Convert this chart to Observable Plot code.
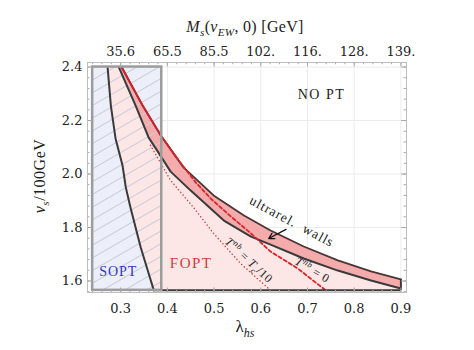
<!DOCTYPE html>
<html><head><meta charset="utf-8">
<script src="https://cdn.jsdelivr.net/npm/d3@7"></script>
<script src="https://cdn.jsdelivr.net/npm/@observablehq/plot@0.6"></script>
<style>
html,body{margin:0;padding:0;background:#fff;}
#chart{width:474px;height:350px;}
</style></head><body><div id="chart"></div>
<script>
// ---- axis ticks ----
const lamTicks = [0.3, 0.4, 0.5, 0.6, 0.7, 0.8, 0.9];
const msTickLabels = ["35.6", "65.5", "85.5", "102.", "116.", "128.", "139."];
const vTicks = [1.6, 1.8, 2.0, 2.2, 2.4];

// ---- SOPT / FOPT boundary (left black curve) ----
const soptLam = [0.272, 0.279, 0.289, 0.304, 0.311, 0.321, 0.332, 0.343, 0.358, 0.371];
const soptV   = [2.400, 2.256, 2.133, 2.032, 1.950, 1.875, 1.800, 1.725, 1.639, 1.565];

// ---- ultrarelativistic-wall band: lower boundary ----
const wallLowLam = [0.296, 0.332, 0.360, 0.381, 0.407, 0.450, 0.521, 0.579, 0.621, 0.692, 0.765, 0.836, 0.900];
const wallLowV   = [2.400, 2.256, 2.136, 2.080, 2.009, 1.938, 1.826, 1.766, 1.736, 1.684, 1.639, 1.602, 1.572];

// ---- band upper boundary (NO PT boundary) ----
const wallUpLam = [0.302, 0.347, 0.386, 0.435, 0.499, 0.564, 0.621, 0.692, 0.765, 0.836, 0.900];
const wallUpV   = [2.400, 2.256, 2.144, 2.024, 1.920, 1.845, 1.789, 1.729, 1.677, 1.636, 1.606];

// ---- T^nb = 0 (red dashed) ----
const tnb0Lam = [0.302, 0.347, 0.386, 0.418, 0.461, 0.493, 0.536, 0.579, 0.621, 0.679, 0.739];
const tnb0V   = [2.400, 2.256, 2.144, 2.065, 1.968, 1.908, 1.841, 1.778, 1.710, 1.647, 1.565];

// ---- T^nb = T_c/10 (red dotted) ----
const tnb10Lam = [0.364, 0.407, 0.456, 0.499, 0.557, 0.621];
const tnb10V   = [2.107, 1.976, 1.875, 1.778, 1.665, 1.565];

// ---- SOPT box, floor, arrow ----
const soptBoxLam = [0.240, 0.388];
const soptBoxV = [1.565, 2.400];
const vFloor = 1.565;
const arrowLam = [0.654, 0.617];
const arrowV = [1.793, 1.759];

// ---- labels ----
const labelNames = ["NO PT", "FOPT", "SOPT", "ultrarel.  walls"];
const labelLam = [0.731, 0.452, 0.296, 0.668];
const labelV = [2.297, 1.665, 1.635, 1.822];

const xDom = [0.229, 0.912];
const yDom = [1.557, 2.417];

const pts = (L, V) => L.map((x, i) => ({x, y: V[i]}));
const sopt = pts(soptLam, soptV);
const low = pts(wallLowLam, wallLowV);
const up = pts(wallUpLam, wallUpV);
const tnb0 = pts(tnb0Lam, tnb0V);
const tnb10 = pts(tnb10Lam, tnb10V);
const fopt = [...sopt, {x: wallLowLam[wallLowLam.length - 1], y: vFloor}, ...low.slice().reverse()];
const band = [...low, ...up.slice().reverse()];
const boxOpt = {x1: soptBoxLam[0], x2: soptBoxLam[1], y1: soptBoxV[0], y2: soptBoxV[1]};

const lamMinor = d3.range(0.24, 0.9101, 0.02);
const vMinor = d3.range(1.56, 2.4101, 0.04);
const dy = 0.012, dx = 0.0075;

const SERIF = "'Liberation Serif', 'Times New Roman', 'DejaVu Serif', serif";
const TICKFONT = "'DejaVu Serif', 'Liberation Serif', serif";
const dark = "#3a3a3a";
const plot = Plot.plot({
  width: 474, height: 350,
  marginLeft: 87, marginRight: 68, marginTop: 62, marginBottom: 58,
  x: {domain: xDom},
  y: {domain: yDom},
  style: {fontFamily: TICKFONT, fontSize: "13px", color: "#222", background: "#fff"},
  marks: [
    Plot.gridX(lamTicks, {stroke: "#ececec", strokeOpacity: 1}),
    Plot.gridY(vTicks, {stroke: "#ececec", strokeOpacity: 1}),
    Plot.rect([0], {...boxOpt, fill: "#eceef9"}),
    Plot.line(fopt, {x: "x", y: "y", fill: "#fde6e6", stroke: "none"}),
    Plot.line(band, {x: "x", y: "y", fill: "#f4abab", stroke: "none"}),
    Plot.rect([0], {...boxOpt, fill: "url(#hatch)"}),
    Plot.line(tnb10, {x: "x", y: "y", stroke: "#c84848", strokeWidth: 1.5, strokeDasharray: "0.1,3.4", strokeLinecap: "round"}),
    Plot.line(sopt, {x: "x", y: "y", stroke: dark, strokeWidth: 2}),
    Plot.line(low, {x: "x", y: "y", stroke: dark, strokeWidth: 2}),
    Plot.line(up, {x: "x", y: "y", stroke: "#4a3434", strokeWidth: 1.8}),
    Plot.line(tnb0, {x: "x", y: "y", filter: d => d.y >= 2.06, stroke: "#c8262b", strokeWidth: 1.9}),
    Plot.line(tnb0, {x: "x", y: "y", filter: d => d.y <= 2.07, stroke: "#d8262b", strokeWidth: 1.8, strokeDasharray: "3.5,2.5"}),
    Plot.ruleY([vFloor], {x1: soptLam[soptLam.length - 1], x2: wallLowLam[wallLowLam.length - 1], stroke: dark, strokeWidth: 2}),
    Plot.ruleX([wallUpLam[wallUpLam.length - 1]], {y1: vFloor, y2: wallUpV[wallUpV.length - 1], stroke: dark, strokeWidth: 2}),
    Plot.rect([0], {...boxOpt, fill: "none", stroke: "#9c9c9c", strokeWidth: 2.5}),
    Plot.arrow([0], {x1: arrowLam[0], y1: arrowV[0], x2: arrowLam[1], y2: arrowV[1], stroke: "#111", strokeWidth: 1.3, headLength: 7}),
    // frame ticks
    Plot.ruleX(lamMinor, {y1: yDom[0], y2: yDom[0] + dy * 0.7, stroke: "#a8a8a8"}),
    Plot.ruleX(lamMinor, {y1: yDom[1], y2: yDom[1] - dy * 0.7, stroke: "#a8a8a8"}),
    Plot.ruleX(lamTicks, {y1: yDom[0], y2: yDom[0] + dy * 1.4, stroke: "#a8a8a8"}),
    Plot.ruleX(lamTicks, {y1: yDom[1], y2: yDom[1] - dy * 1.4, stroke: "#a8a8a8"}),
    Plot.ruleY(vMinor, {x1: xDom[0], x2: xDom[0] + dx * 0.7, stroke: "#a8a8a8"}),
    Plot.ruleY(vMinor, {x1: xDom[1], x2: xDom[1] - dx * 0.7, stroke: "#a8a8a8"}),
    Plot.ruleY(vTicks, {x1: xDom[0], x2: xDom[0] + dx * 1.4, stroke: "#a8a8a8"}),
    Plot.ruleY(vTicks, {x1: xDom[1], x2: xDom[1] - dx * 1.4, stroke: "#a8a8a8"}),
    Plot.frame({stroke: "#bdbdbd"}),
    Plot.axisX(lamTicks, {anchor: "bottom", tickSize: 0, tickPadding: 11, label: null, fontFamily: TICKFONT, tickFormat: d => d.toFixed(1)}),
    Plot.axisX(lamTicks, {anchor: "top", tickSize: 0, tickPadding: 7, label: null, fontFamily: TICKFONT, tickFormat: d => msTickLabels[lamTicks.indexOf(d)]}),
    Plot.axisY(vTicks, {anchor: "left", tickSize: 0, tickPadding: 5, label: null, fontFamily: TICKFONT, tickFormat: d => d.toFixed(1)})
  ]
});

const svg = d3.select(plot);
const defs = svg.insert("defs", ":first-child");
const pat = defs.append("pattern").attr("id", "hatch").attr("patternUnits", "userSpaceOnUse")
  .attr("width", 24).attr("height", 11).attr("patternTransform", "rotate(-30)");
pat.append("line").attr("x1", 0).attr("y1", 5.5).attr("x2", 24).attr("y2", 5.5)
  .attr("stroke", "#c9ccd9").attr("stroke-width", 1);

const X = plot.scale("x"), Y = plot.scale("y");
function rich(parts, px, py, o = {}) {
  const size = o.size || 14;
  const t = svg.append("text")
    .attr("transform", `translate(${px},${py}) rotate(${o.rotate || 0})`)
    .attr("y", size * 0.35)
    .attr("text-anchor", "middle")
    .style("font-family", o.family || SERIF)
    .attr("font-size", size)
    .attr("fill", o.fill || "#222")
    .attr("letter-spacing", o.spacing || 0);
  let shift = 0;
  for (const p of parts) {
    const target = p.sub ? size * 0.3 : p.sup ? -size * 0.38 : 0;
    t.append("tspan").attr("dy", target - shift)
      .attr("font-size", (p.sub || p.sup) ? size * 0.7 : size)
      .attr("font-style", p.i ? "italic" : "normal")
      .text(p.t);
    shift = target;
  }
  return t;
}
// titles
rich([{t: "M", i: 1}, {t: "s", i: 1, sub: 1}, {t: "("}, {t: "v", i: 1}, {t: "EW", i: 1, sub: 1}, {t: ", 0) [GeV]"}], 245, 26, {size: 16, spacing: 0.3});
rich([{t: "λ"}, {t: "hs", i: 1, sub: 1}], 245, 326, {size: 17});
rich([{t: "v", i: 1}, {t: "s", i: 1, sub: 1}, {t: "/100GeV"}], 39, 176, {size: 16, rotate: -90, spacing: 0.5});
// region labels
const lblStyle = [
  {size: 14, spacing: 1.5, fill: "#222", rotate: 0},
  {size: 15, spacing: 1.5, fill: "#d43b3b", rotate: 0},
  {size: 14, spacing: 1, fill: "#3434c2", rotate: 0},
  {size: 13.5, spacing: 1, fill: "#222", rotate: 28}
];
labelNames.forEach((n, i) => rich([{t: n}], X.apply(labelLam[i]), Y.apply(labelV[i]), lblStyle[i]));
rich([{t: "T", i: 1}, {t: "nb", i: 1, sup: 1}, {t: " = "}, {t: "T", i: 1}, {t: "c", i: 1, sub: 1}, {t: "/10"}],
  X.apply(0.576), Y.apply(1.677), {size: 12, rotate: 43, spacing: 0.6});
rich([{t: "T", i: 1}, {t: "nb", i: 1, sup: 1}, {t: " = 0"}],
  X.apply(0.712), Y.apply(1.640), {size: 12, rotate: 31, spacing: 0.6});

document.getElementById("chart").appendChild(plot);
</script>
</body></html>
